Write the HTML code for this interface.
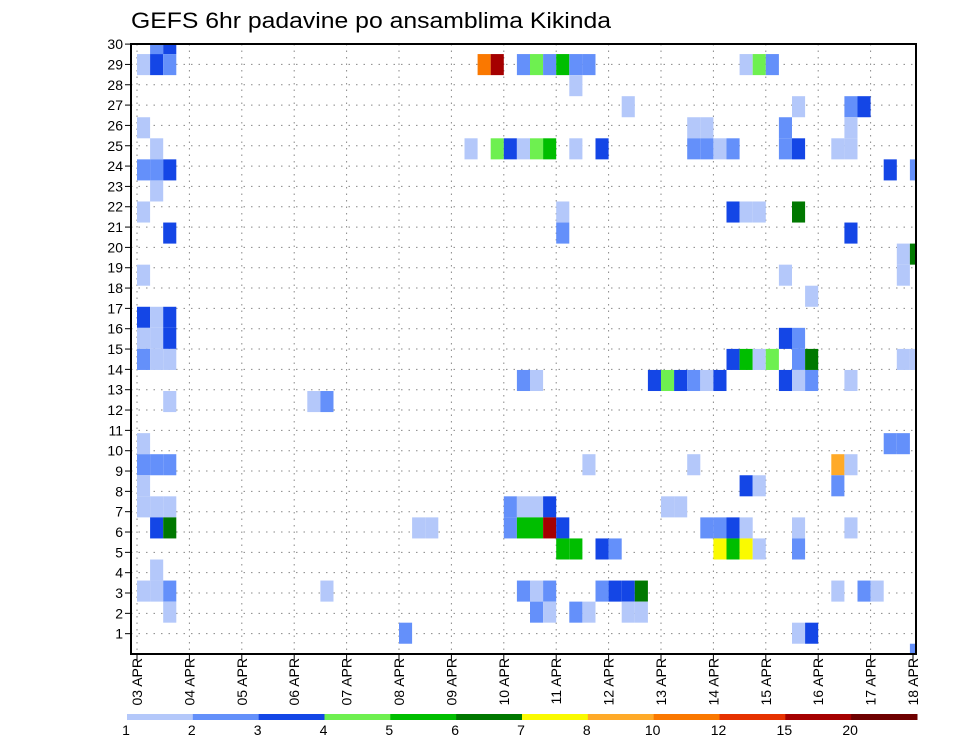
<!DOCTYPE html>
<html>
<head>
<meta charset="utf-8">
<style>
html,body{margin:0;padding:0;background:#fff;}
svg{display:block;font-family:"Liberation Sans",sans-serif;}
</style>
</head>
<body>
<svg id="chart" width="960" height="742" viewBox="0 0 960 742" xmlns="http://www.w3.org/2000/svg">
  <text x="131" y="28" font-size="22" textLength="480" lengthAdjust="spacingAndGlyphs">GEFS 6hr padavine po ansamblima Kikinda</text>
  <defs><clipPath id="plotclip"><rect x="131" y="44" width="785" height="610"/></clipPath></defs>
  <g id="grid"></g>
  <g id="cells" clip-path="url(#plotclip)"></g>
  <rect x="131" y="44" width="785" height="610" fill="none" stroke="#000" stroke-width="2"/>
  <g id="yaxis"></g>
  <g id="xaxis"></g>
  <g id="cbar"></g>
</svg>
<script>
// ---- data ----
var memberLabels = [1,2,3,4,5,6,7,8,9,10,11,12,13,14,15,16,17,18,19,20,21,22,23,24,25,26,27,28,29,30];
var dayLabels = ["03 APR","04 APR","05 APR","06 APR","07 APR","08 APR","09 APR","10 APR","11 APR","12 APR","13 APR","14 APR","15 APR","16 APR","17 APR","18 APR"];
var levelBreaks = [1,2,3,4,5,6,7,8,10,12,15,20];
var levelColors = ["#b4c8fa","#6490fa","#1446e6","#6ef050","#00be00","#007800","#fafa00","#ffaa28","#fa7800","#e63200","#a50000","#6e0000"];
// cell columns (6h steps from 03 APR), grid rows (0 = top), precipitation values (mm)
var cellCol = [
 1,2,
 0,1,2,26,27,29,30,31,32,33,34,46,47,48,
 33,
 37,50,54,55,
 0,42,43,49,54,
 1,25,27,28,29,30,31,33,35,42,43,44,45,49,50,53,54,
 0,1,2,57,59,
 1,
 0,32,45,46,47,50,
 2,32,54,
 58,59,
 0,49,58,
 51,
 0,1,2,
 0,1,2,49,50,
 0,1,2,45,46,47,48,50,51,58,59,
 29,30,39,40,41,42,43,44,49,50,51,54,
 2,13,14,
 0,57,58,
 0,1,2,34,42,53,54,
 0,46,47,53,
 0,1,2,28,29,30,31,40,41,
 1,2,21,22,28,29,30,31,32,43,44,45,46,50,54,
 32,33,35,36,44,45,46,47,50,
 1,
 0,1,2,14,29,30,31,35,36,37,38,53,55,56,
 2,30,31,33,34,37,38,
 20,50,51,
 59];
var cellRow = [
 0,0,
 1,1,1,1,1,1,1,1,1,1,1,1,1,1,
 2,
 3,3,3,3,
 4,4,4,4,4,
 5,5,5,5,5,5,5,5,5,5,5,5,5,5,5,5,5,
 6,6,6,6,6,
 7,
 8,8,8,8,8,8,
 9,9,9,
 10,10,
 11,11,11,
 12,
 13,13,13,
 14,14,14,14,14,
 15,15,15,15,15,15,15,15,15,15,15,
 16,16,16,16,16,16,16,16,16,16,16,16,
 17,17,17,
 19,19,19,
 20,20,20,20,20,20,20,
 21,21,21,21,
 22,22,22,22,22,22,22,22,22,
 23,23,23,23,23,23,23,23,23,23,23,23,23,23,23,
 24,24,24,24,24,24,24,24,24,
 25,
 26,26,26,26,26,26,26,26,26,26,26,26,26,26,
 27,27,27,27,27,27,27,
 28,28,28,
 29];
var cellVal = [
 2.5,3.5,
 1.5,3.5,2.5,11,17,2.5,4.5,2.5,5.5,2.5,2.5,1.5,4.5,2.5,
 1.5,
 1.5,1.5,2.5,3.5,
 1.5,1.5,1.5,2.5,1.5,
 1.5,1.5,4.5,3.5,1.5,4.5,5.5,1.5,3.5,2.5,2.5,1.5,2.5,2.5,3.5,1.5,1.5,
 2.5,2.5,3.5,3.5,2.5,
 1.5,
 1.5,1.5,3.5,1.5,1.5,6.5,
 3.5,2.5,3.5,
 1.5,6.5,
 1.5,1.5,1.5,
 1.5,
 3.5,1.5,3.5,
 1.5,1.5,3.5,3.5,2.5,
 2.5,1.5,1.5,3.5,5.5,1.5,4.5,2.5,6.5,1.5,1.5,
 2.5,1.5,3.5,4.5,3.5,2.5,1.5,3.5,3.5,1.5,2.5,1.5,
 1.5,1.5,2.5,
 1.5,2.5,2.5,
 2.5,2.5,2.5,1.5,1.5,9,1.5,
 1.5,3.5,1.5,2.5,
 1.5,1.5,1.5,2.5,1.5,1.5,3.5,1.5,1.5,
 3.5,6.5,1.5,1.5,2.5,5.5,5.5,17,3.5,2.5,2.5,3.5,1.5,1.5,1.5,
 5.5,5.5,3.5,2.5,7.5,5.5,7.5,1.5,2.5,
 1.5,
 1.5,1.5,2.5,1.5,2.5,1.5,2.5,2.5,3.5,3.5,6.5,1.5,2.5,1.5,
 1.5,2.5,1.5,2.5,1.5,1.5,1.5,
 2.5,1.5,3.5,
 2.5];

// ---- scales ----
var NS="http://www.w3.org/2000/svg";
var PL=131, PR=916, PT=44, PB=654;
function colX(c){ return 137 + 13.1*c; }
var colW = 13.1;
function rowY(j){ return 33 + 21.06*j; }
var rowH = 21.06;
function memberY(m){ return 654 - 20.33*m; }
function dayX(d){ return 137 + 52.4*d; }
function colorFor(v){
  var idx=-1;
  for(var i=0;i<levelBreaks.length;i++){ if(v>=levelBreaks[i]) idx=i; }
  return idx<0?null:levelColors[idx];
}
function mk(tag,attrs,parent){
  var e=document.createElementNS(NS,tag);
  for(var k in attrs) e.setAttribute(k,attrs[k]);
  parent.appendChild(e); return e;
}

// grid
var grid=document.getElementById('grid');
for(var i=0;i<memberLabels.length;i++){
  var y=memberY(memberLabels[i]);
  var gl=mk('line',{x1:PL,x2:PR,y1:y,y2:y,stroke:'#888','stroke-width':1,'stroke-dasharray':'1.5,6'},grid);
  
  
}
for(var d=0;d<dayLabels.length;d++){
  var x=dayX(d); if(x>PR) continue;
  var vl=mk('line',{x1:x,x2:x,y1:PT,y2:PB,stroke:'#888','stroke-width':1,'stroke-dasharray':'1.5,5'},grid);
  
  
}

// cells
var cells=document.getElementById('cells');
for(var n=0;n<cellVal.length;n++){
  var col=colorFor(cellVal[n]); if(!col) continue;
  var r=mk('rect',{x:colX(cellCol[n]),y:rowY(cellRow[n]),width:colW,height:rowH,fill:col},cells);
  
  
}

// y axis
var ya=document.getElementById('yaxis');
for(var i=0;i<memberLabels.length;i++){
  var y=memberY(memberLabels[i]);
  var t=mk('line',{x1:125,x2:PL,y1:y,y2:y,stroke:'#000','stroke-width':1},ya);
  
  
  var lb=mk('text',{x:123,y:y+5,'font-size':14,'text-anchor':'end'},ya);
  lb.textContent=memberLabels[i];
  
  
}

// x axis
var xa=document.getElementById('xaxis');
for(var d=0;d<dayLabels.length;d++){
  var x=Math.min(dayX(d),913);
  var tk=mk('line',{x1:x,x2:x,y1:PB,y2:PB+6,stroke:'#000','stroke-width':1},xa);
  
  
  var lb=mk('text',{x:0,y:0,'font-size':14,'text-anchor':'end',transform:'translate('+(x+5)+',658) rotate(-90)'},xa);
  lb.textContent=dayLabels[d];
  
  
}

// colorbar
var cb=document.getElementById('cbar');
var nb=levelColors.length, cbL=127, cbR=917, segW=(cbR-cbL)/nb;
for(var i=0;i<nb;i++){
  var s=mk('rect',{x:cbL+segW*i,y:714,width:segW+0.5,height:6,fill:levelColors[i]},cb);
  
  
}
for(var i=0;i<levelBreaks.length;i++){
  var lb=mk('text',{x:cbL-1+segW*i,y:735,'font-size':14,'text-anchor':'middle'},cb);
  lb.textContent=levelBreaks[i];
  
  
}
</script>
</body>
</html>
